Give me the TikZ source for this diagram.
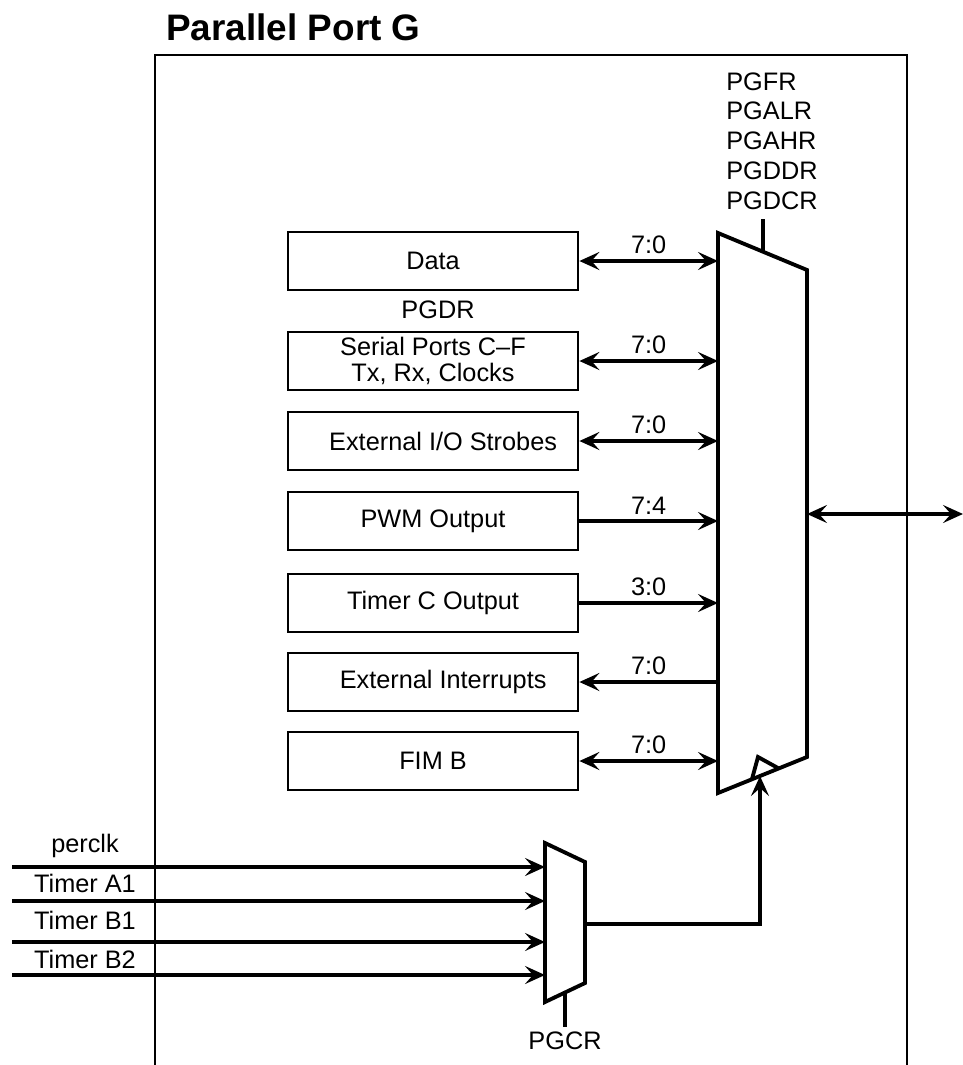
\documentclass[tikz,border=0pt]{standalone}
\usepackage{fontspec}
\setmainfont{Liberation Sans}
\usetikzlibrary{arrows.meta}

\begin{document}
\begin{tikzpicture}[x=0.02cm, y=-0.02cm,
    >={Stealth[length=4mm,width=3.6mm,inset=1.6mm]},
    blk/.style={draw, line width=1.6pt, minimum width=5.8cm, minimum height=1.16cm,
        inner sep=0pt, align=center, font=\fontsize{14.4}{14.4}\selectfont},
    lbl/.style={inner sep=0pt, font=\fontsize{14.4}{17}\selectfont},
    bus/.style={line width=2.2pt}]
    \useasboundingbox (0,0) rectangle (963,1065);

    % frame and title
    \node[anchor=base west, inner sep=0pt, font=\bfseries\fontsize{21}{25}\selectfont] (title) at (166,40) {Parallel Port G};
    \draw[line width=1.1pt] (155,1065) |- (907,55) -- (907,1065);

    % function blocks
    \node[blk] (data) at (433,261) {Data};
    \node[lbl] (pgdr) at (438,310) {PGDR};
    \node[blk] (serial) at (433,361) {Serial Ports C--F\\Tx, Rx, Clocks};
    \node[blk] (extio) at (433,441) {\hspace{0.8em}External I/O Strobes};
    \node[blk] (pwm) at (433,521) {PWM Output};
    \node[blk] (timc) at (433,603) {Timer C Output};
    \node[blk] (extint) at (433,682) {\hspace{0.8em}External Interrupts};
    \node[blk] (fimb) at (433,761) {FIM B};

    % port mux
    \coordinate (m1) at (718,233);
    \coordinate (m2) at (807,270);
    \coordinate (m3) at (807,757);
    \coordinate (m4) at (718,793);
    \draw[bus] (m1) -- (m2) -- (m3) -- (m4) -- cycle;
    \coordinate (mctl) at (763,252);
    \draw[bus] (mctl) -- (763,219);
    \node[lbl, anchor=north west, align=left] (regs) at (726,72) {PGFR\\PGALR\\PGAHR\\PGDDR\\PGDCR};
    \draw[bus] (752,779) -- (758,757) -- (778,768);
    \coordinate (clk) at (760,776);

    \draw[bus,<->] (data.east) -- (data.east -| m1) node[lbl, midway, above=0.1cm] (w1) {7:0};
    \draw[bus,<->] (serial.east) -- (serial.east -| m1) node[lbl, midway, above=0.1cm] (w2) {7:0};
    \draw[bus,<->] (extio.east) -- (extio.east -| m1) node[lbl, midway, above=0.1cm] (w3) {7:0};
    \draw[bus,->] (pwm.east) -- (pwm.east -| m1) node[lbl, midway, above=0.1cm] (w4) {7:4};
    \draw[bus,->] (timc.east) -- (timc.east -| m1) node[lbl, midway, above=0.1cm] (w5) {3:0};
    \draw[bus,->] (extint.east -| m1) -- (extint.east) node[lbl, midway, above=0.1cm] (w6) {7:0};
    \draw[bus,<->] (fimb.east) -- (fimb.east -| m1) node[lbl, midway, above=0.1cm] (w7) {7:0};

    \coordinate (pout) at (963,514);
    \draw[bus,<->] (m2 |- pout) -- (pout);

    % clock select mux
    \coordinate (s1) at (545,843);
    \coordinate (s2) at (585,862);
    \coordinate (s3) at (585,983);
    \coordinate (s4) at (545,1002);
    \draw[bus] (s1) -- (s2) -- (s3) -- (s4) -- cycle;
    \draw[bus] (565,993) -- (565,1027);
    \node[lbl] (pgcr) at (565,1041) {PGCR};

    \coordinate (in1) at (12,867);
    \coordinate (in2) at (12,901);
    \coordinate (in3) at (12,942);
    \coordinate (in4) at (12,975);
    \node[lbl] (perclk) at (85,846) {perclk};
    \node[lbl] (ta1) at (85,883) {Timer A1};
    \node[lbl] (tb1) at (85,920) {Timer B1};
    \node[lbl] (tb2) at (85,959) {Timer B2};
    \foreach \i in {1,...,4}
        \draw[bus,->] (in\i) -- (in\i -| s1);

    \coordinate (sout) at (585,924);
    \draw[bus,->] (sout) -| (clk);
\end{tikzpicture}
\end{document}
